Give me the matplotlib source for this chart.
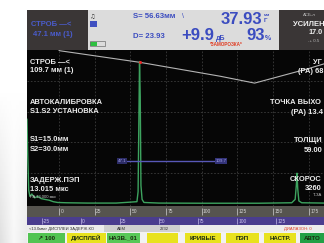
import numpy as np
import matplotlib
matplotlib.use("Agg")
import matplotlib.pyplot as plt
from matplotlib.patches import Rectangle

W, H = 324, 243
NARROW = ['Liberation Sans Narrow', 'Liberation Sans', 'DejaVu Sans']
WIDE = ['Liberation Sans', 'DejaVu Sans']

# --- A-scan data (x in mm, amplitude in % of screen height) ---
ascan_mm = [-22.4, -21.9, -21.2, -20.4, -19.0, -17.0, -15.0, -12.5, -10.0, -7.0, -4.0, -1.0,
            5.0, 20.0, 40.0, 54.6, 55.4, 55.9, 56.4, 56.9, 57.4, 58.2, 59.5, 70.0, 100.0,
            140.0, 163.0, 165.4, 166.2, 166.7, 167.2, 168.0, 170.0, 185.6]
ascan_amp = [55, 32, 9, 5, 6.5, 4, 5, 3.5, 3, 2.5, 1.5, 1,
             0.8, 0.6, 0.6, 1.5, 8, 50, 92.5, 70, 12, 3, 1, 0.6, 0.5,
             0.5, 0.8, 3, 12, 20, 10, 2, 0.8, 0.6]

# DAC / TCG curve
dac_mm = [-5.0, 0.7, 56.6, 112.7, 137.0, 175.0, 185.6]
dac_amp = [103, 99.5, 92, 83, 78.5, 88, 91]

peak_mm, peak_amp = 56.6, 92.5
gate_start, gate_end, gate_level = 47.1, 109.7, 28

mm_ticks = [0, 25, 50, 75, 100, 125, 150, 175]
depth_ticks = [-25, 0, 25, 50, 75, 100, 125]

left_labels = [("СТРОБ —<", 62), ("109.7 мм (1)", 70),
               ("АВТОКАЛИБРОВКА", 102), ("S1.S2 УСТАНОВКА", 111),
               ("S1=15.0мм", 139), ("S2=30.0мм", 149),
               ("ЗАДЕРЖ.ПЭП", 180), ("13.015 мкс", 189)]
# right-hand column is cut by the screen edge in the photo
right_labels = [("УГ", 313, 62), ("(PA) 68", 298, 71),
                ("ТОЧКА ВЫХО", 270, 102), ("(PA) 13.4", 291, 112),
                ("ТОЛЩИ", 294, 140), ("59.00", 304, 150),
                ("СКОРОС", 290, 179), ("3260", 305, 188)]

buttons = [("↗ 100", 28, 65, '#52c452'), ("ДИСПЛЕЙ", 67, 106, '#e8e21e'),
           ("НАЗВ._01", 107, 140, '#58c858'), ("", 147, 178, '#e8e21e'),
           ("КРИВЫЕ", 185, 221, '#e8e21e'), ("ПЭП", 226, 259, '#e8e21e'),
           ("НАСТР.", 264, 296, '#e8e21e'), ("АВТО", 300, 330, '#22a046')]

fig = plt.figure(figsize=(W / 100, H / 100), dpi=100)


def px_axes(x0, y0, x1, y1):
    return fig.add_axes([x0 / W, 1 - y1 / H, (x1 - x0) / W, (y1 - y0) / H])


bg = fig.add_axes([0, 0, 1, 1])
bg.set_xlim(0, W)
bg.set_ylim(H, 0)
bg.axis('off')


def rect(ax, x0, y0, x1, y1, color):
    ax.add_patch(Rectangle((x0, y0), x1 - x0, y1 - y0, color=color, lw=0))


# left margin gradient
gx = np.concatenate([np.linspace(0.88, 0.97, 14), np.linspace(0.97, 0.92, 13)])
gy = np.clip(np.linspace(-0.6, 1, 60), 0, 1)
grad = 1 - np.outer(gy, 1 - gx)
bg.imshow(np.dstack([grad] * 3), extent=(0, 27, H, 0), aspect='auto')

# header panels
rect(bg, 27, 10, 88, 50, '#3a3636')
rect(bg, 88, 10, 279, 50, '#dcdcdc')
rect(bg, 279, 10, W, 50, '#3a3636')
rect(bg, 90, 21, 97, 27, '#4050c0')
rect(bg, 90, 42, 97, 46, '#2ec040')
bg.add_patch(Rectangle((89.5, 41.5), 15, 5, fill=False, ec='#707070', lw=0.5))

# bottom strips
rect(bg, 27, 225, W, 232, '#ececec')
rect(bg, 104, 225, 180, 232, '#cfcfcf')
rect(bg, 27, 232, W, H, '#f2f2f2')
for text, x0, x1, col in buttons:
    rect(bg, x0, 233, x1, H, col)

# --- A-scan ---
ax = px_axes(27, 50, W, 206)
ax.set_facecolor('#060606')
ax.set_xlim(-22.4, 185.6)
ax.set_ylim(-1.3, 100)
ax.set_xticks(mm_ticks)
ax.set_yticks([20, 40, 60, 80])
ax.tick_params(length=0, labelbottom=False, labelleft=False)
ax.grid(True, color='#3c3c3c', lw=0.6, ls=(0, (2, 2)))
for s in ax.spines.values():
    s.set_visible(False)
ax.plot(dac_mm, dac_amp, color='#b4b4b4', lw=0.8)
ax.plot(ascan_mm, ascan_amp, color='#3da35f', lw=1.0)
ax.plot(peak_mm, peak_amp, 'o', color='#e82828', ms=2.2, mec='none')
ax.hlines(gate_level, gate_start, gate_end, color='#5858b8', lw=1.0)
ax.text(gate_start, gate_level, '47.1', ha='right', va='center', fontsize=3.2,
        color='#a0a0e8', family=NARROW,
        bbox=dict(fc='#2c2c66', ec='none', pad=0.5))
ax.text(gate_end, gate_level, '109.7', ha='left', va='center', fontsize=3.2,
        color='#a0a0e8', family=NARROW,
        bbox=dict(fc='#34347a', ec='none', pad=0.5))

# mm scale band
gb = px_axes(27, 206, W, 217)
gb.set_xlim(ax.get_xlim())
gb.set_ylim(0, 1)
gb.axis('off')
gb.add_patch(Rectangle((0, 0), 1, 1, transform=gb.transAxes, color='#56544f', lw=0))
gb.vlines(mm_ticks, 0.2, 0.85, color='#cfcfcf', lw=0.5)
for t in mm_ticks:
    gb.text(t + 0.9, 0.5, str(t), fontsize=3.5, color='#d4d4d4', va='center',
            family=NARROW)

# depth scale band
pb = px_axes(27, 217, W, 225)
pb.set_xlim(-34.6, 155.8)
pb.set_ylim(0, 1)
pb.axis('off')
pb.add_patch(Rectangle((0, 0), 1, 1, transform=pb.transAxes, color='#4a3d8e', lw=0))
pb.vlines(depth_ticks, 0.15, 0.85, color='#c0b8e8', lw=0.5)
for t in depth_ticks:
    pb.text(t + 0.8, 0.5, str(t), fontsize=3.5, color='#c8c0ec', va='center',
            family=NARROW)

# --- all text on an overlay ---
top = fig.add_axes([0, 0, 1, 1])
top.set_xlim(0, W)
top.set_ylim(H, 0)
top.axis('off')
top.patch.set_alpha(0)

BLUE = '#3b4cc0'
top.text(31, 24, 'СТРОБ —<', color='#4a5ccc', fontsize=5.5, weight='bold', va='center', family=NARROW)
top.text(33, 34, '47.1 мм (1)', color='#4a5ccc', fontsize=5.5, weight='bold', va='center', family=NARROW)
top.text(90, 15.5, '♫', color='#202020', fontsize=4.5, va='center', family=['DejaVu Sans'])
top.text(133, 17, 'S= 56.63мм', color=BLUE, fontsize=5.6, weight='bold', va='center', family=NARROW)
top.text(182, 17, '\\', color=BLUE, fontsize=5, va='center', family=NARROW)
top.text(133, 37, 'D= 23.93', color=BLUE, fontsize=5.6, weight='bold', va='center', family=NARROW)
top.text(221, 19, '37.93', color=BLUE, fontsize=12, weight='bold', va='center', family=WIDE)
top.text(264, 14.5, 'мм', color=BLUE, fontsize=3.2, weight='bold', va='center', family=NARROW)
top.text(264, 20, 'Г', color=BLUE, fontsize=4.5, weight='bold', va='center', family=NARROW)
top.text(181, 35, '+9.9', color=BLUE, fontsize=12, weight='bold', va='center', family=WIDE)
top.text(216, 39, 'дБ', color=BLUE, fontsize=5, weight='bold', va='center', family=NARROW)
top.text(246, 35, '93', color=BLUE, fontsize=12, weight='bold', va='center', family=WIDE)
top.text(265, 39, '%', color=BLUE, fontsize=5, weight='bold', va='center', family=NARROW)
top.text(210, 44.5, '*ЗАМОРОЗКА*', color='#e03a20', fontsize=3.3, weight='bold', va='center', family=NARROW)

top.text(303, 15, 'АСБ-л', color='#c0c0c0', fontsize=3.2, va='center', family=NARROW)
top.text(293, 24, 'УСИЛЕН', color='#f0f0f0', fontsize=5.5, weight='bold', va='center', family=NARROW)
top.text(308, 33, '17.0', color='#f0f0f0', fontsize=5.2, weight='bold', va='center', family=NARROW)
top.text(308, 41, '-+ 0.5', color='#b8b8b8', fontsize=3.2, va='center', family=NARROW)

for text, y in left_labels:
    top.text(30, y, text, color='#ececec', fontsize=5.4, weight='bold', va='center', family=NARROW)
top.text(30, 197, 'PA 13.000 мкс', color='#c8c8c8', fontsize=3.0, va='center', family=NARROW)
for text, x, y in right_labels:
    top.text(x, y, text, color='#ececec', fontsize=5.4, weight='bold', va='center', family=NARROW)
top.text(313, 195, 'Т-ЗА', color='#c8c8c8', fontsize=3.0, va='center', family=NARROW)

top.text(29, 228.5, '<13.0мм> ДИСПЛЕЙ ЗАДЕРЖ.КО', color='#303030', fontsize=3.0, va='center', family=NARROW)
top.text(117, 228.5, 'АБМ', color='#303030', fontsize=3.0, va='center', family=NARROW)
top.text(160, 228.5, '2232', color='#303030', fontsize=3.0, va='center', family=NARROW)
top.text(284, 228.5, 'ДИАПАЗОН: 0', color='#e03a20', fontsize=3.0, va='center', family=NARROW)

for text, x0, x1, col in buttons:
    cx = (x0 + min(x1, W)) / 2
    top.text(cx, 238.3, text, color='#1a2a10', fontsize=4.4, weight='bold',
             ha='center', va='center', family=NARROW)

fig.savefig('out.png', dpi=100)
